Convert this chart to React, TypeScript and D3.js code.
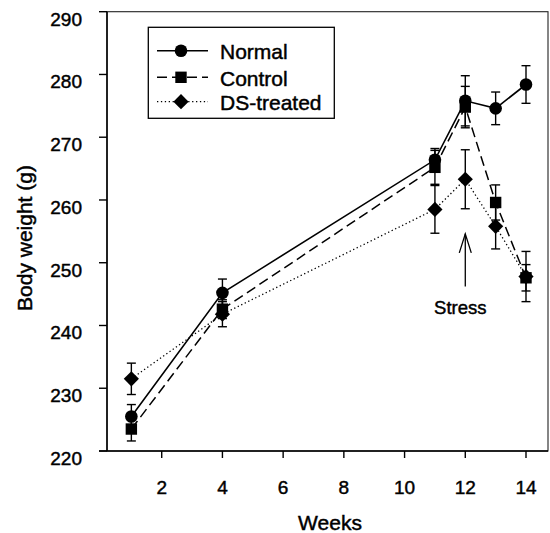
import React from "react";
import * as d3 from "d3";

const weeks = [1, 4, 11, 12, 13, 14];
const normalMean = [225.5, 245.2, 266.4, 275.8, 274.6, 278.4];
const normalErr = [1.9, 2.2, 1.8, 4.0, 2.6, 3.0];
const controlMean = [223.5, 242.6, 265.2, 274.8, 259.6, 247.6];
const controlErr = [1.9, 1.5, 2.7, 3.3, 2.8, 2.1];
const dsMean = [231.5, 241.8, 258.5, 263.3, 255.8, 247.8];
const dsErr = [2.5, 2.0, 3.8, 4.7, 3.6, 4.0];
const xTicks = [2, 4, 6, 8, 10, 12, 14];
const yTicks = [220, 230, 240, 250, 260, 270, 280, 290];
const seriesNames = ["Normal", "Control", "DS-treated"];
const stressWeek = 12;
const stressLabel = "Stress";

const W = 550;
const H = 533;
const plotLeft = 107;
const plotRight = 548;
const plotTop = 11.7;
const plotBottom = 451;

const FONT = "Arial, 'Liberation Sans', Helvetica, sans-serif";
const TXT = { fill: "#000", stroke: "#000", strokeWidth: 0.45 };

type Series = {
  name: string;
  mean: number[];
  err: number[];
  dash: string;
  width: number;
  marker: "circle" | "square" | "diamond";
};

const series: Series[] = [
  { name: seriesNames[0], mean: normalMean, err: normalErr, dash: "", width: 1.6, marker: "circle" },
  { name: seriesNames[1], mean: controlMean, err: controlErr, dash: "10,5", width: 1.5, marker: "square" },
  { name: seriesNames[2], mean: dsMean, err: dsErr, dash: "1.3,2.6", width: 1.3, marker: "diamond" },
];

function Marker({ kind, x, y }: { kind: string; x: number; y: number }) {
  if (kind === "circle") return <circle cx={x} cy={y} r={6.3} fill="#000" />;
  if (kind === "square") return <rect x={x - 5.7} y={y - 5.7} width={11.4} height={11.4} fill="#000" />;
  const s = 7.6;
  return <path d={`M${x},${y - s}L${x + s},${y}L${x},${y + s}L${x - s},${y}Z`} fill="#000" />;
}

export default function App() {
  const x = d3.scaleLinear().domain([0, 14]).range([101, 526]);
  const y = d3.scaleLinear().domain([220, 290]).range([plotBottom, plotTop]);
  const line = d3
    .line<number>()
    .x((_, i) => x(weeks[i]))
    .y((d) => y(d));

  const stressX = x(stressWeek);
  const arrowTip = y(254.6);
  const arrowBottom = y(246.2);

  return (
    <svg
      width={W}
      height={H}
      style={{ position: "absolute", left: 0, top: 0, background: "#fff" }}
      fontFamily={FONT}
    >
      <rect x={0} y={0} width={W} height={H} fill="#fff" />
      {/* frame */}
      <rect
        x={plotLeft}
        y={plotTop}
        width={plotRight - plotLeft}
        height={plotBottom - plotTop}
        fill="none"
        stroke="#222"
        strokeWidth={1.1}
      />
      <line x1={plotLeft} x2={plotLeft} y1={plotTop} y2={plotBottom} stroke="#000" strokeWidth={1.5} />
      <line x1={plotLeft - 8} x2={plotRight} y1={plotBottom} y2={plotBottom} stroke="#000" strokeWidth={1.5} />

      {/* y axis */}
      {yTicks.map((t) => (
        <g key={"y" + t}>
          <line x1={plotLeft - 8} x2={plotLeft} y1={y(t)} y2={y(t)} stroke="#000" strokeWidth={1.4} />
          <text
            x={82}
            y={y(t) + 7.5}
            textAnchor="end"
            dominantBaseline="central"
            fontSize={19}
            {...TXT}
          >
            {t}
          </text>
        </g>
      ))}
      {/* x axis */}
      {xTicks.map((t) => (
        <g key={"x" + t}>
          <line x1={x(t)} x2={x(t)} y1={plotBottom} y2={plotBottom + 7} stroke="#000" strokeWidth={1.4} />
          <text x={x(t)} y={487} textAnchor="middle" dominantBaseline="central" fontSize={19} {...TXT}>
            {t}
          </text>
        </g>
      ))}
      <text x={330} y={522} textAnchor="middle" dominantBaseline="central" fontSize={21} {...TXT}>
        Weeks
      </text>
      <text
        transform={`translate(24,238) rotate(-90)`}
        textAnchor="middle"
        dominantBaseline="central"
        fontSize={21}
        {...TXT}
      >
        Body weight (g)
      </text>

      {/* lines */}
      {series.map((s) => (
        <path
          key={"l" + s.name}
          d={line(s.mean) || ""}
          fill="none"
          stroke="#000"
          strokeWidth={s.width}
          strokeDasharray={s.dash || undefined}
        />
      ))}
      {/* error bars */}
      {series.map((s) =>
        s.mean.map((m, i) => {
          const cx = x(weeks[i]);
          const top = y(m + s.err[i]);
          const bot = y(m - s.err[i]);
          return (
            <g key={"e" + s.name + i} stroke="#000" strokeWidth={1.4}>
              <line x1={cx} x2={cx} y1={top} y2={bot} />
              <line x1={cx - 4.5} x2={cx + 4.5} y1={top} y2={top} />
              <line x1={cx - 4.5} x2={cx + 4.5} y1={bot} y2={bot} />
            </g>
          );
        })
      )}
      {/* markers */}
      {series.map((s) =>
        s.mean.map((m, i) => <Marker key={"m" + s.name + i} kind={s.marker} x={x(weeks[i])} y={y(m)} />)
      )}

      {/* stress arrow */}
      <g stroke="#000" strokeWidth={1.3} fill="none">
        <line x1={stressX} x2={stressX} y1={arrowTip} y2={arrowBottom} />
        <path d={`M${stressX - 6},${arrowTip + 19}L${stressX},${arrowTip}L${stressX + 6},${arrowTip + 19}`} />
      </g>
      <text x={stressX - 5} y={307} textAnchor="middle" dominantBaseline="central" fontSize={18.5} {...TXT}>
        {stressLabel}
      </text>

      {/* legend */}
      <rect x={148.3} y={27.3} width={186} height={91} fill="#fff" stroke="#000" strokeWidth={1.3} />
      {series.map((s, i) => {
        const ly = [50.7, 77.3, 101.7][i];
        return (
          <g key={"lg" + s.name}>
            <line
              x1={157}
              x2={208}
              y1={ly}
              y2={ly}
              stroke="#000"
              strokeWidth={s.width}
              strokeDasharray={s.dash || undefined}
            />
            <Marker kind={s.marker} x={181} y={ly} />
            <text x={220} y={ly + 1} dominantBaseline="central" fontSize={21} {...TXT}>
              {s.name}
            </text>
          </g>
        );
      })}
    </svg>
  );
}
